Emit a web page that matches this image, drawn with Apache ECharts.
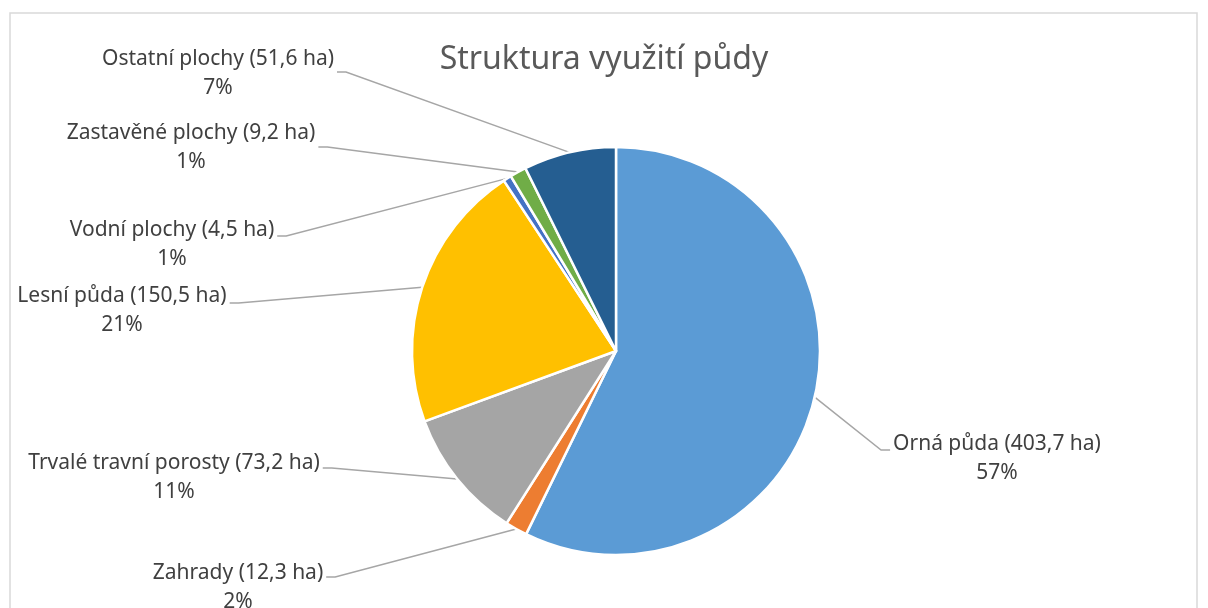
<!DOCTYPE html>
<html>
<head>
<meta charset="utf-8">
<script src="https://cdn.jsdelivr.net/npm/echarts@6/dist/echarts.min.js"></script>
<style>
  html, body { margin: 0; padding: 0; background: #fff; }
  #chart { width: 1208px; height: 608px; }
</style>
</head>
<body>
<div id="chart"></div>
<script>
  // data
  var categories = ['Orná půda', 'Zahrady', 'Trvalé travní porosty', 'Lesní půda',
    'Vodní plochy', 'Zastavěné plochy', 'Ostatní plochy']
  var areas = [403.7, 12.3, 73.2, 150.5, 4.5, 9.2, 51.6]
  var colors = ['#5B9BD5', '#ED7D31', '#A5A5A5', '#FFC000', '#4472C4', '#70AD47', '#255E91']

  // label placement (text centre x, text centre y, leader line y)
  var labelSpots = [
    [997, 459, 450],
    [238, 588, 577],
    [174, 478, 468],
    [122, 311, 303],
    [172, 245, 236],
    [191, 148, 147],
    [218, 74, 72]
  ]

  var pieCenter = [616, 351]

  var chart = echarts.init(document.getElementById('chart'))

  var pieData = []
  for (var i = 0; i < categories.length; i++) {
    pieData.push({
      name: categories[i],
      value: areas[i],
      itemStyle: { color: colors[i] }
    })
  }

  chart.setOption({
    animation: false,
    backgroundColor: '#fff',
    graphic: [{
      type: 'rect',
      shape: { x: 10, y: 13, width: 1187, height: 640 },
      style: { fill: 'none', stroke: '#d9d9d9', lineWidth: 1.5 },
      silent: true
    }],
    title: {
      text: 'Struktura využití půdy',
      left: 'center',
      top: 39,
      textStyle: {
        color: '#595959',
        fontFamily: 'Noto Sans',
        fontWeight: 'normal',
        fontSize: 32
      }
    },
    series: [{
      type: 'pie',
      center: pieCenter,
      radius: 204,
      startAngle: 90,
      clockwise: true,
      percentPrecision: 0,
      avoidLabelOverlap: false,
      itemStyle: {
        borderColor: '#fff',
        borderWidth: 2.5
      },
      label: {
        show: true,
        position: 'outside',
        color: '#404040',
        fontFamily: 'Noto Sans',
        fontSize: 21,
        lineHeight: 29,
        align: 'center',
        formatter: function (p) {
          return p.name + ' (' + String(p.value).replace('.', ',') + ' ha)\n' + p.percent + '%'
        }
      },
      labelLine: {
        show: true,
        length: 10,
        length2: 10,
        lineStyle: { color: '#a6a6a6', width: 1.5 }
      },
      labelLayout: function (params) {
        var spot = labelSpots[params.dataIndex]
        var w = params.labelRect.width
        var isLeft = spot[0] < pieCenter[0]
        var edge = isLeft ? spot[0] + w / 2 + 3 : spot[0] - w / 2 - 3
        var start = params.labelLinePoints ? params.labelLinePoints[0] : [spot[0], spot[2]]
        return {
          x: spot[0],
          y: spot[1],
          align: 'center',
          verticalAlign: 'middle',
          labelLinePoints: [
            start,
            [isLeft ? edge + 9 : edge - 9, spot[2]],
            [edge, spot[2]]
          ]
        }
      },
      data: pieData
    }]
  })
</script>
</body>
</html>
